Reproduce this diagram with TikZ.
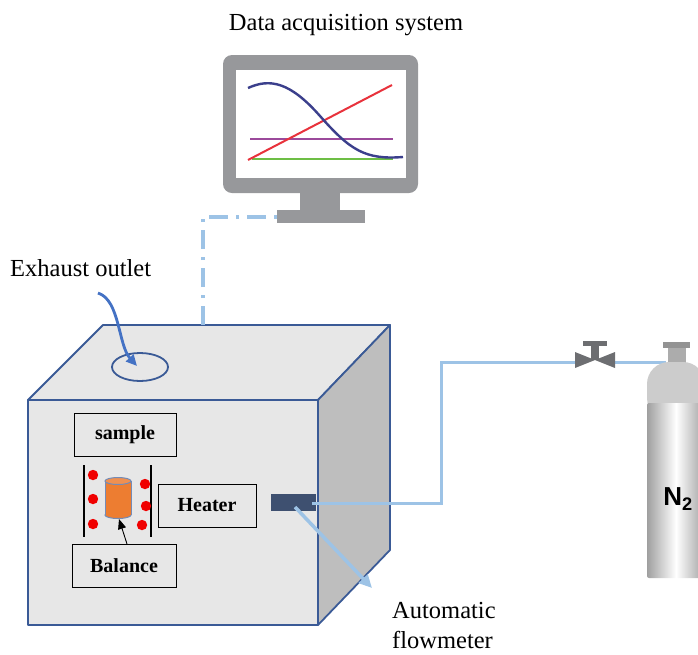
\documentclass[tikz,border=0pt]{standalone}
\usepackage{fontspec}
\setmainfont{Liberation Serif}
\newfontfamily\labelsans{Liberation Sans}
\usetikzlibrary{arrows.meta,shapes.geometric}
\definecolor{edgeblue}{HTML}{3A5A96}
\definecolor{pipeblue}{HTML}{9DC3E6}
\definecolor{arrowblue}{HTML}{4472C4}
\definecolor{screengray}{HTML}{97989B}
\definecolor{facelight}{HTML}{E7E7E7}
\definecolor{facedark}{HTML}{BEBEBE}
\definecolor{meterblue}{HTML}{3E5070}
\definecolor{valvegray}{HTML}{6D6E71}
\definecolor{dotred}{HTML}{F00000}
\definecolor{sampleorange}{HTML}{ED7D31}
\definecolor{curvenavy}{HTML}{3B3F8C}
\definecolor{curvepurple}{HTML}{9B4A9B}
\definecolor{curvegreen}{HTML}{6DBE45}
\definecolor{curvered}{HTML}{E8323C}
\begin{document}
\begin{tikzpicture}[x=1pt,y=-1pt,
  bigtext/.style={font=\fontsize{24.5}{29}\selectfont, inner sep=0pt},
  boxlabel/.style={draw=black, line width=0.8pt, fill=facelight,
    font=\fontsize{20}{24}\selectfont\bfseries, minimum width=102pt, minimum height=43pt, inner sep=0pt},
  pipe/.style={draw=pipeblue, line width=3pt},
  faceedge/.style={draw=edgeblue, line width=1.8pt, line join=round}]
\useasboundingbox (0,0) rectangle (698,654);

% ---------- monitor ----------
\fill[screengray, rounded corners=9pt] (223,55) rectangle (418,193);
\fill[white] (236,70) rectangle (406,178);
\fill[screengray] (300,192) rectangle (340,211);
\fill[screengray] (277,210) rectangle (365,223);
\draw[curvegreen, line width=2.2pt] (252,159) -- (393,159);
\draw[curvepurple, line width=1.6pt] (250,139) -- (393,139);
\draw[curvered, line width=2pt] (248,160) -- (392,85);
\draw[curvenavy, line width=2.4pt]
  (248,88) .. controls (270,78) and (290,82) .. (320,116)
  .. controls (350,150) and (365,160) .. (403,157);
\node[bigtext] (daq) at (346,25) {Data acquisition system};
\coordinate (monbase) at (277,217);

% ---------- furnace box ----------
\filldraw[fill=facelight, faceedge] (28,400) -- (103,325) -- (390,325) -- (318,400) -- cycle;
\filldraw[fill=facedark, faceedge] (318,400) -- (390,325) -- (390,550) -- (318,625) -- cycle;
\filldraw[fill=facelight, faceedge] (28,400) rectangle (318,625);
\coordinate (boxtop) at (203,325);

% data cable from the monitor to the box
\draw[pipeblue, line width=3.5pt, dash pattern=on 19pt off 8pt on 3pt off 8pt]
  (boxtop) -- (203,217) -- (monbase);

% exhaust outlet
\draw[edgeblue, line width=1.8pt] (140,367) ellipse [x radius=28, y radius=14];
\coordinate (outlet) at (137,366);
\node[bigtext, anchor=west] (exhaust) at (10,268) {Exhaust outlet};
\draw[arrowblue, line width=2.8pt, -{Triangle[length=11pt,width=10pt]}]
  (98,293) .. controls (120,300) and (118,345) .. (outlet);

% ---------- inside the furnace ----------
\node[boxlabel] (sample) at (125,434.5) {sample};
\node[boxlabel, minimum width=98pt] (heater) at (207,505.5) {Heater};
\node[boxlabel, minimum width=104pt] (balance) at (124,565.5) {Balance};

\draw[black, line width=1.6pt] (84,465) -- (84,537);
\draw[black, line width=1.6pt] (151,465) -- (151,537);
\foreach \px/\py in {93/475, 93/499, 93/524, 145/484, 146/506, 142/525}
  \fill[dotred] (\px,\py) circle (5.2);

% sample crucible
\filldraw[fill=sampleorange, draw=edgeblue!70, line width=1pt]
  (118,515) ellipse [x radius=13, y radius=3.5];
\fill[sampleorange] (105,481) rectangle (131,515);
\draw[edgeblue!70, line width=1pt] (105,481) -- (105,515) (131,481) -- (131,515);
\filldraw[fill=sampleorange!85!white, draw=edgeblue!70, line width=1pt]
  (118,481) ellipse [x radius=13, y radius=3.5];
\coordinate (crucible) at (119,519);
\draw[black, line width=0.9pt, -{Triangle[length=10pt,width=8pt]}] (127,544) -- (crucible);

% flowmeter
\fill[meterblue] (271,494) rectangle (316,511);
\coordinate (meter) at (312,503);
\coordinate (meterspot) at (295,507);

% ---------- gas line ----------
\coordinate (bendlow) at (441,503);
\coordinate (bendhigh) at (441,362);
\coordinate (valvein) at (577,362);
\coordinate (valveout) at (613,362);
\coordinate (tankneck) at (666,362);
\draw[pipe] (meter) -- (bendlow) -- (bendhigh) -- (valvein);
\draw[pipe] (valveout) -- (tankneck);

% valve
\fill[valvegray] (575,352) -- (595,360) -- (575,368) -- cycle;
\fill[valvegray] (615,352) -- (595,360) -- (615,368) -- cycle;
\fill[valvegray] (591,345) rectangle (599,360);
\fill[valvegray] (583,341) rectangle (607,346);

% ---------- nitrogen cylinder ----------
\begin{scope}
\clip (0,0) rectangle (698,654);
\fill[gray!85] (663,342) rectangle (690,348);
\fill[gray!65] (668,348) rectangle (686,364);
\fill[gray!40, rounded corners=22pt] (647,420) -- (647,362) -- (705,362) -- (705,420) -- cycle;
\shade[left color=gray!75, right color=gray!75, middle color=white, rounded corners=2pt]
  (647,403) rectangle (705,578);
\end{scope}
\node[font=\labelsans\bfseries\fontsize{26}{30}\selectfont, inner sep=0pt] (n2) at (678,499) {N\textsubscript{2}};

% flowmeter arrow
\coordinate (flowtip) at (372,588);
\draw[pipe, line width=3.5pt, -{Triangle[length=13pt,width=12pt]}] (meterspot) -- (flowtip);
\node[bigtext, anchor=north west, align=left, font=\fontsize{24.5}{30}\selectfont]
  (flowlabel) at (392,602) {Automatic\\flowmeter};

\end{tikzpicture}
\end{document}
